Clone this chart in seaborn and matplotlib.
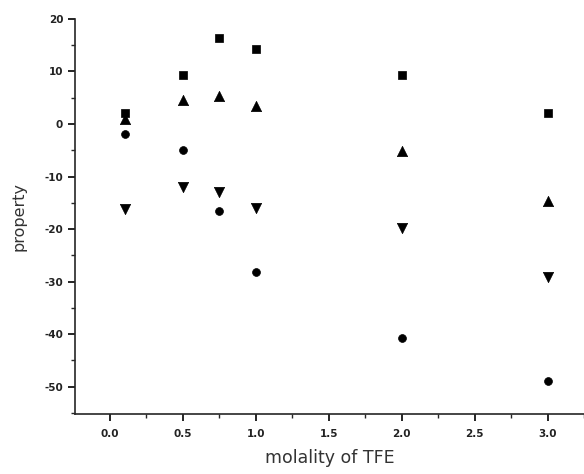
import matplotlib
matplotlib.use("Agg")
import matplotlib.pyplot as plt
import seaborn as sns
import pandas as pd
from matplotlib.ticker import MultipleLocator

molality = [0.1, 0.5, 0.75, 1.0, 2.0, 3.0]
series_square = [2.1, 9.3, 16.4, 14.3, 9.3, 2.1]
series_triangle_up = [0.9, 4.6, 5.3, 3.4, -5.1, -14.7]
series_circle = [-1.9, -4.9, -16.5, -28.1, -40.8, -48.9]
series_triangle_down = [-16.2, -11.9, -12.9, -15.9, -19.7, -29.2]

names = ["square", "tri_up", "circle", "tri_down"]
values = [series_square, series_triangle_up, series_circle, series_triangle_down]
rows = []
for n, v in zip(names, values):
    for x, y in zip(molality, v):
        rows.append({"molality": x, "property": y, "series": n})
df = pd.DataFrame(rows)

sns.set_style("ticks")
plt.rcParams['font.family'] = ['DejaVu Sans']

fig = plt.figure(figsize=(5.84, 4.74), dpi=100)
ax = fig.add_axes([0.1284, 0.1266, 0.8716, 0.8334])

markers = {"square": "s", "tri_up": "^", "circle": "o", "tri_down": "v"}
sizes = {"square": 26, "tri_up": 55, "circle": 32, "tri_down": 55}
for n in names:
    sub = df[df["series"] == n]
    sns.scatterplot(data=sub, x="molality", y="property", marker=markers[n],
                    s=sizes[n], color="black", edgecolor="black", linewidth=0.5,
                    ax=ax, legend=False)

ax.set_xlim(-0.24, 3.25)
ax.set_ylim(-55.2, 20)
ax.xaxis.set_minor_locator(MultipleLocator(0.25))
ax.yaxis.set_minor_locator(MultipleLocator(5))
ax.set_xticks([0, 0.5, 1.0, 1.5, 2.0, 2.5, 3.0])
ax.set_xticklabels(["0.0", "0.5", "1.0", "1.5", "2.0", "2.5", "3.0"])
ax.set_yticks([20, 10, 0, -10, -20, -30, -40, -50])
ax.set_yticklabels(["20", "10", "0", "-10", "-20", "-30", "-40", "-50"])
ax.tick_params(axis="both", which="major", direction="out", length=5, width=1.2,
               labelsize=7.5, colors="black")
ax.tick_params(axis="x", which="major", pad=6)
ax.tick_params(axis="both", which="minor", direction="out", length=3, width=1.0)
for lbl in ax.get_xticklabels() + ax.get_yticklabels():
    lbl.set_fontweight("bold")
    lbl.set_color("#222222")

sns.despine(ax=ax, top=True, right=True)
ax.spines["left"].set_linewidth(1.2)
ax.spines["bottom"].set_linewidth(1.2)

ax.set_xlabel("molality of TFE", fontsize=12.5, color="#333333", labelpad=7)
ax.set_ylabel("property", fontsize=11.5, color="#333333", labelpad=13)

fig.savefig("out.png", dpi=100)
